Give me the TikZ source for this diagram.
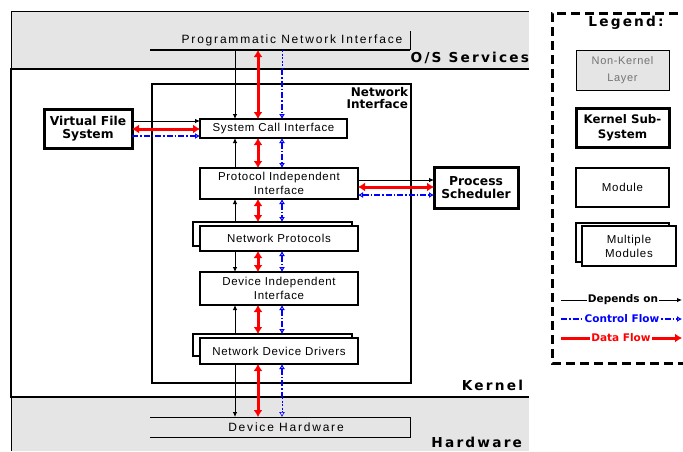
\documentclass[tikz,border=0pt]{standalone}
\usepackage{fontspec}
\setmainfont{Liberation Sans}
\newfontfamily\lsf[LetterSpace=6]{Liberation Sans}
\newfontfamily\lsw[LetterSpace=15]{Liberation Sans}
\newfontfamily\djb{DejaVu Sans}
\newfontfamily\djbs[LetterSpace=16]{DejaVu Sans}
\usetikzlibrary{arrows.meta}
\definecolor{bandgray}{RGB}{229,229,229}
\definecolor{dred}{RGB}{255,0,0}
\definecolor{dblue}{RGB}{0,0,255}
\begin{document}
\begin{tikzpicture}[x=1pt,y=-1pt,
  every node/.style={inner sep=0pt, outer sep=0pt, align=center},
  modbox/.style={draw, line width=1.5pt, fill=white, font={\lsf\fontsize{11.5}{14}\selectfont}},
  ksub/.style={draw, line width=3pt, fill=white, font={\djb\bfseries\fontsize{12.3}{13}\selectfont}},
  bandlbl/.style={font={\djbs\bfseries\fontsize{13.7}{15}\selectfont}, anchor=east},
  hwlbl/.style={font={\lsw\fontsize{12}{13}\selectfont}},
  dep/.style={line width=0.8pt, -{Latex[length=5pt,width=4.5pt]}},
  data/.style={line width=3pt, color=dred, {Latex[length=7pt,width=9pt]}-{Latex[length=7pt,width=9pt]}},
  ctrl/.style={line width=1.4pt, color=dblue, dash pattern=on 6pt off 2pt on 1.5pt off 2pt, -{Latex[open,length=5pt,width=6pt]}},
  ctrlboth/.style={ctrl, {Latex[open,length=5pt,width=6pt]}-{Latex[open,length=5pt,width=6pt]}},
  ctrlthin/.style={line width=0.6pt, color=dblue, dash pattern=on 2pt off 1.5pt},
  leglbl/.style={fill=white, inner xsep=1pt, font={\djb\bfseries\fontsize{10.5}{11}\selectfont}},
]
\useasboundingbox (0,0) rectangle (683,451);
% bands
\fill[bandgray] (11,11) rectangle (529,69);
\draw[line width=0.8pt] (529,11) -- (11,11) -- (11,69);
\fill[bandgray] (11,397) rectangle (529,451);
\draw[line width=0.8pt] (11,397) -- (11,451);
\draw[line width=2.5pt] (529,69) -- (11,69) -- (11,397) -- (529,397);
\node[bandlbl] (oslbl) at (529,58) {O/S Services};
\node[bandlbl] (klbl) at (523,385) {Kernel};
\node[bandlbl] (hwl) at (522,442) {Hardware};
% programmatic + hardware boxes
\node[minimum width=260, minimum height=19] (pni) at (280,40.5) {};
\draw[line width=1.6pt] (pni.south west) -- (pni.south east);
\draw[line width=0.8pt] (pni.south east) -- (pni.north east);
\node[hwlbl] (pnilbl) at (292,40) {Programmatic Network Interface};
\node[minimum width=260, minimum height=20] (dh) at (280,427) {};
\draw[line width=0.8pt] (dh.north west) -- (dh.north east) -- (dh.south east) -- (dh.south west);
\node[hwlbl] (dhlbl) at (286,427) {Device Hardware};
% network interface
\node[draw, line width=2.5pt, minimum width=259, minimum height=299] (ni) at (281.5,233.5) {};
\node[anchor=north east, align=right, font={\djb\bfseries\fontsize{12}{12}\selectfont}] (nilbl) at (408,87) {Network\\Interface};
% subsystems
\node[ksub, minimum width=88, minimum height=39] (vfs) at (88,128.5) {Virtual File\\System};
\node[ksub, minimum width=84, minimum height=41] (ps) at (476,187.5) {Process\\Scheduler};
% modules
\node[modbox, minimum width=147, minimum height=19] (sci) at (273.5,128.5) {System Call Interface};
\node[modbox, minimum width=158, minimum height=31] (pii) at (279,183.5) {Protocol Independent\\Interface};
\node[modbox, minimum width=159, minimum height=24] (npb) at (272.5,234) {};
\node[modbox, minimum width=158, minimum height=25] (np) at (279,238.5) {Network Protocols};
\node[modbox, minimum width=158, minimum height=33] (dii) at (279,288.5) {Device Independent\\Interface};
\node[modbox, minimum width=159, minimum height=22] (nddb) at (272.5,345) {};
\node[modbox, minimum width=158, minimum height=26] (ndd) at (279,351) {Network Device Drivers};
% helper coordinates
\coordinate (xb) at (235,0);
\coordinate (xr) at (258,0);
\coordinate (xc) at (282,0);
\coordinate (ktop) at (0,69);
\coordinate (kbot) at (0,397);
\coordinate (ya) at (0,121);
\coordinate (yb) at (0,129);
\coordinate (yc) at (0,136);
\coordinate (yd) at (0,180);
\coordinate (ye) at (0,187);
\coordinate (yf) at (0,195);
% vertical connectors
\draw[dep] (pni.south -| xb) -- (sci.north -| xb);
\draw[data] (pni.south -| xr) -- (sci.north -| xr);
\draw[ctrlthin] (pni.south -| xc) -- (ktop -| xc);
\draw[ctrl] (ktop -| xc) -- (sci.north -| xc);
\draw[dep] (pii.north -| xb) -- (sci.south -| xb);
\draw[data] (sci.south -| xr) -- (pii.north -| xr);
\draw[ctrlboth] (sci.south -| xc) -- (pii.north -| xc);
\draw[dep] (npb.north -| xb) -- (pii.south -| xb);
\draw[data] (pii.south -| xr) -- (npb.north -| xr);
\draw[ctrlboth] (pii.south -| xc) -- (npb.north -| xc);
\draw[dep] (np.south -| xb) -- (dii.north -| xb);
\draw[data] (np.south -| xr) -- (dii.north -| xr);
\draw[ctrlboth] (np.south -| xc) -- (dii.north -| xc);
\draw[dep] (nddb.north -| xb) -- (dii.south -| xb);
\draw[data] (dii.south -| xr) -- (nddb.north -| xr);
\draw[ctrlboth] (dii.south -| xc) -- (nddb.north -| xc);
\draw[dep] (ndd.south -| xb) -- (dh.north -| xb);
\draw[data] (ndd.south -| xr) -- (dh.north -| xr);
\draw[ctrl, -, {Latex[open,length=5pt,width=6pt]}-] (ndd.south -| xc) -- (kbot -| xc);
\draw[ctrlthin, -{Latex[open,length=5pt,width=6pt]}] (kbot -| xc) -- (dh.north -| xc);
% horizontal connectors
\draw[dep] (vfs.east |- ya) -- (sci.west |- ya);
\draw[data] (vfs.east |- yb) -- (sci.west |- yb);
\draw[ctrl] (vfs.east |- yc) -- (sci.west |- yc);
\draw[dep] (pii.east |- yd) -- (ps.west |- yd);
\draw[data] (pii.east |- ye) -- (ps.west |- ye);
\draw[ctrlboth] (pii.east |- yf) -- (ps.west |- yf);
% legend
\draw[line width=3pt, dash pattern=on 9pt off 5pt] (692,13) -- (552,13) -- (552,363) -- (692,363);
\node[font={\djbs\bfseries\fontsize{13.7}{15}\selectfont}] (leg) at (626,23) {Legend:};
\node[draw, line width=0.8pt, fill=bandgray, minimum width=93, minimum height=40, text=black!55, font={\lsf\fontsize{11}{17}\selectfont}] (lnk) at (622.5,70) {Non-Kernel\\Layer};
\node[ksub, minimum width=93, minimum height=39, font={\djb\bfseries\fontsize{11.8}{15}\selectfont}] (lks) at (622.5,127.5) {Kernel Sub-\\System};
\node[modbox, minimum width=93, minimum height=39] (lmod) at (622.5,187.5) {Module};
\node[modbox, minimum width=93, minimum height=39] (lmb) at (622.5,242.5) {};
\node[modbox, minimum width=94, minimum height=40] (lmf) at (629,246) {Multiple\\Modules};
\coordinate (la1) at (561,300);
\coordinate (la2) at (682,300);
\coordinate (lb1) at (561,319);
\coordinate (lb2) at (682,319);
\coordinate (lc1) at (561,338);
\coordinate (lc2) at (682,338);
\draw[dep] (la1) -- (la2);
\draw[ctrl] (lb1) -- (lb2);
\draw[line width=3pt, color=dred, -{Latex[length=7pt,width=9pt]}] (lc1) -- (lc2);
\node[leglbl] (ldep) at (623,300) {Depends on};
\node[leglbl, text=dblue] (lctl) at (622,319) {Control Flow};
\node[leglbl, text=dred] (ldat) at (621,338) {Data Flow};
\end{tikzpicture}
\end{document}
